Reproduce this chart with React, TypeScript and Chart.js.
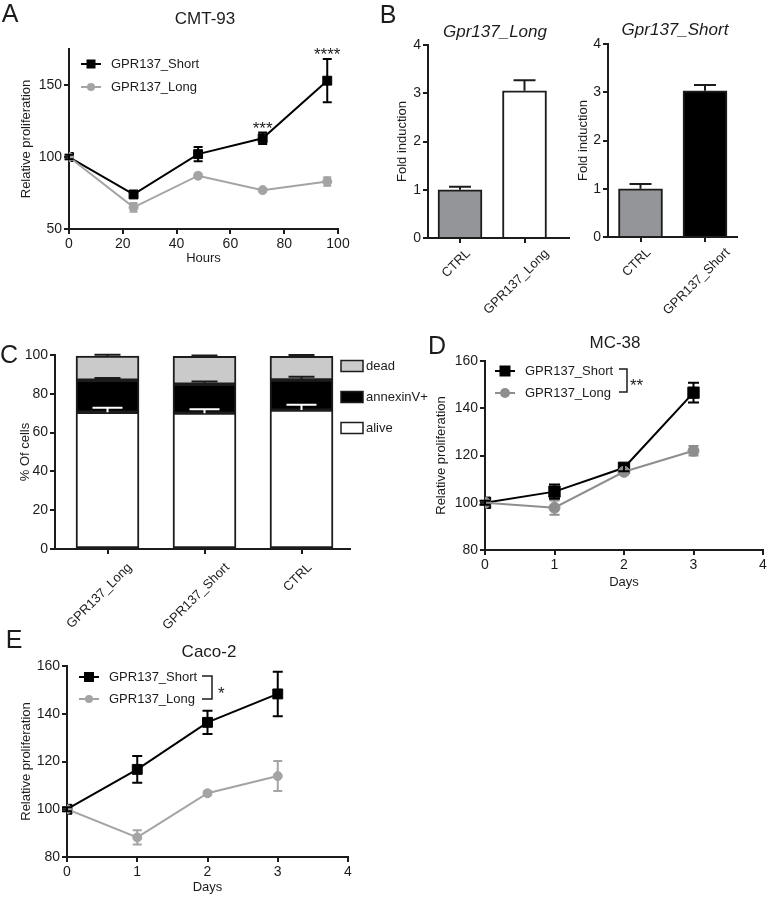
import React, { useEffect, useRef } from 'react';
import { Chart, registerables } from 'chart.js';

Chart.register(...registerables);

const FONT = '"Liberation Sans", Arial, Helvetica, sans-serif';
const W = 772;
const H = 897;
const INK = '#1c1c1c';
const GRAY_A = '#a4a4a4';
const GRAY_D = '#8e8e8e';
const CTRL_GRAY = '#939598';
const DEAD_GRAY = '#cacaca';

// ---------- Panel A: CMT-93 ----------
const hoursA = [0, 24, 48, 72, 96];
const shortA = [100, 74, 102, 113, 153];
const shortAErr = [1.5, 2, 5, 4, 15];
const longA = [100, 65, 87, 77, 83];
const longAErr = [1.5, 3, 1.5, 1, 3];
const starsA = ['', '', '', '***', '****'];
const yTicksA = [50, 100, 150];

// ---------- Panel B ----------
const bLongLabels = ['CTRL', 'GPR137_Long'];
const bLongValues = [1.0, 3.05];
const bLongErr = [0.06, 0.22];
const bShortLabels = ['CTRL', 'GPR137_Short'];
const bShortValues = [1.0, 3.03];
const bShortErr = [0.1, 0.12];

// ---------- Panel C ----------
const cLabels = ['GPR137_Long', 'GPR137_Short', 'CTRL'];
const cAlive = [70.5, 70.0, 71.6];
const cAliveErr = [2.3, 2.0, 2.7];
const cAnnexin = [16.5, 14.9, 15.5];
const cAnnexinErr = [1.1, 1.4, 1.7];
const cDead = [12.5, 14.4, 12.2];
const cDeadErr = [0.6, 0.5, 0.7];

// ---------- Panel D: MC-38 ----------
const daysD = [0, 1, 2, 3];
const shortD = [100, 104.7, 114.8, 146.6];
const shortDErr = [0.8, 3, 1.5, 4.2];
const longD = [100, 97.9, 113.1, 122.0];
const longDErr = [0.8, 3, 1, 2];

// ---------- Panel E: Caco-2 ----------
const daysE = [0, 1, 2, 3];
const shortE = [100, 116.7, 136.4, 148.3];
const shortEErr = [0.8, 5.6, 4.9, 9.3];
const longE = [100, 88.2, 106.7, 113.9];
const longEErr = [0.8, 3.0, 0.8, 6.3];

type TextItem = { text: string; x: number; y: number; size: number; italic?: boolean; align?: CanvasTextAlign; baseline?: CanvasTextBaseline };
type LegendItem = { label: string; color: string; marker: 'rect' | 'circle'; size: number; x1: number; x2: number; textX: number; y: number };
type BoxItem = { label: string; fill: string; x: number; y: number; w: number; h: number; textX: number };
type Bracket = { x: number; y1: number; y2: number; arm: number };

function decor(cfg: { texts?: TextItem[]; legend?: LegendItem[]; boxes?: BoxItem[]; brackets?: Bracket[] }) {
  return {
    id: 'decor',
    afterDraw(chart: any) {
      const ctx: CanvasRenderingContext2D = chart.ctx;
      ctx.save();
      (cfg.texts || []).forEach((t) => {
        ctx.font = `${t.italic ? 'italic ' : ''}${t.size}px ${FONT}`;
        ctx.fillStyle = INK;
        ctx.textAlign = t.align || 'center';
        ctx.textBaseline = t.baseline || 'middle';
        ctx.fillText(t.text, t.x, t.y);
      });
      (cfg.legend || []).forEach((l) => {
        ctx.strokeStyle = l.color;
        ctx.fillStyle = l.color;
        ctx.lineWidth = 2;
        ctx.beginPath();
        ctx.moveTo(l.x1, l.y);
        ctx.lineTo(l.x2, l.y);
        ctx.stroke();
        const cx = (l.x1 + l.x2) / 2;
        ctx.beginPath();
        if (l.marker === 'rect') ctx.rect(cx - l.size / 2, l.y - l.size / 2, l.size, l.size);
        else ctx.arc(cx, l.y, l.size / 2, 0, Math.PI * 2);
        ctx.fill();
        ctx.font = `13px ${FONT}`;
        ctx.fillStyle = INK;
        ctx.textAlign = 'left';
        ctx.textBaseline = 'middle';
        ctx.fillText(l.label, l.textX, l.y);
      });
      (cfg.boxes || []).forEach((b) => {
        ctx.fillStyle = b.fill;
        ctx.strokeStyle = INK;
        ctx.lineWidth = 1.5;
        ctx.beginPath();
        ctx.rect(b.x, b.y - b.h / 2, b.w, b.h);
        ctx.fill();
        ctx.stroke();
        ctx.font = `13px ${FONT}`;
        ctx.fillStyle = INK;
        ctx.textAlign = 'left';
        ctx.textBaseline = 'middle';
        ctx.fillText(b.label, b.textX, b.y);
      });
      (cfg.brackets || []).forEach((br) => {
        ctx.strokeStyle = INK;
        ctx.lineWidth = 1.5;
        ctx.beginPath();
        ctx.moveTo(br.x - br.arm, br.y1);
        ctx.lineTo(br.x, br.y1);
        ctx.lineTo(br.x, br.y2);
        ctx.lineTo(br.x - br.arm, br.y2);
        ctx.stroke();
      });
      ctx.restore();
    },
  };
}

// rotated (45°) category labels drawn at the x scale's tick positions
function rotatedLabels(labels: string[], dy: number) {
  return {
    id: 'rotLabels',
    afterDraw(chart: any) {
      const ctx: CanvasRenderingContext2D = chart.ctx;
      const sx = chart.scales.x;
      const bottom = chart.chartArea.bottom;
      ctx.save();
      ctx.font = `13px ${FONT}`;
      ctx.fillStyle = INK;
      ctx.textAlign = 'right';
      ctx.textBaseline = 'middle';
      labels.forEach((lab, i) => {
        const w = ctx.measureText(lab).width;
        const ex = sx.getPixelForValue(i) + 5.5 + 0.27 * (w - 20) - 1;
        const ey = bottom + dy;
        ctx.save();
        ctx.translate(ex, ey);
        ctx.rotate(-Math.PI / 4);
        ctx.fillText(lab, 0, 0);
        ctx.restore();
      });
      ctx.restore();
    },
  };
}

type ErrSpec = { dataset: number; errors: number[]; color: string; cap: number; mode: 'both' | 'up'; width?: number };
function errorBars(specs: ErrSpec[]) {
  return {
    id: 'errorBars',
    afterDatasetsDraw(chart: any) {
      const ctx: CanvasRenderingContext2D = chart.ctx;
      const ys = chart.scales.y;
      ctx.save();
      specs.forEach((s) => {
        const meta = chart.getDatasetMeta(s.dataset);
        meta.data.forEach((el: any, i: number) => {
          const e = s.errors[i];
          if (!e) return;
          const d = Math.abs(ys.getPixelForValue(e) - ys.getPixelForValue(0));
          const px = el.x;
          const py = el.y;
          const top = py - d;
          const bot = s.mode === 'both' ? py + d : py;
          ctx.strokeStyle = s.color;
          ctx.lineWidth = s.width ?? 2;
          ctx.beginPath();
          ctx.moveTo(px, top);
          ctx.lineTo(px, bot);
          ctx.moveTo(px - s.cap / 2, top);
          ctx.lineTo(px + s.cap / 2, top);
          if (s.mode === 'both') {
            ctx.moveTo(px - s.cap / 2, bot);
            ctx.lineTo(px + s.cap / 2, bot);
          }
          ctx.stroke();
        });
      });
      ctx.restore();
    },
  };
}

function starsPlugin(xs: number[], ys: number[], errs: number[], labels: string[]) {
  return {
    id: 'stars',
    afterDraw(chart: any) {
      const ctx: CanvasRenderingContext2D = chart.ctx;
      const sx = chart.scales.x;
      const sy = chart.scales.y;
      ctx.save();
      ctx.font = `17px ${FONT}`;
      ctx.fillStyle = INK;
      ctx.textAlign = 'center';
      ctx.textBaseline = 'alphabetic';
      labels.forEach((lab, i) => {
        if (!lab) return;
        ctx.fillText(lab, sx.getPixelForValue(xs[i]), sy.getPixelForValue(ys[i] + errs[i]) + 1);
      });
      ctx.restore();
    },
  };
}

// plot-area geometry helpers
function layoutFor(L: number, T: number, R: number, B: number, yTitleX: number, xBand: number) {
  const padLeft = yTitleX - 7.8;
  return {
    padding: { left: padLeft, top: T, right: W - R, bottom: H - B - xBand },
    yWidth: L - padLeft,
    xHeight: xBand,
  };
}

function yAxis(o: { min: number; max: number; step?: number; ticks?: number[]; title: string; width: number }) {
  return {
    type: 'linear',
    position: 'left',
    min: o.min,
    max: o.max,
    afterFit: (s: any) => {
      s.width = o.width;
    },
    afterBuildTicks: o.ticks
      ? (s: any) => {
          s.ticks = o.ticks!.map((v) => ({ value: v }));
        }
      : undefined,
    ticks: { stepSize: o.step, color: INK, font: { family: FONT, size: 14 }, padding: 2 },
    border: { display: true, color: INK, width: 2 },
    grid: { drawOnChartArea: false, drawTicks: true, tickLength: 5, color: INK, lineWidth: 2 },
    title: { display: true, text: o.title, color: INK, font: { family: FONT, size: 13 }, padding: 0 },
  };
}

function xAxisNum(o: { min: number; max: number; step: number; title: string; height: number }) {
  return {
    type: 'linear',
    position: 'bottom',
    min: o.min,
    max: o.max,
    afterFit: (s: any) => {
      s.height = o.height;
    },
    ticks: { stepSize: o.step, color: INK, font: { family: FONT, size: 14 }, padding: 2, maxRotation: 0 },
    border: { display: true, color: INK, width: 2 },
    grid: { drawOnChartArea: false, drawTicks: true, tickLength: 5, color: INK, lineWidth: 2 },
    title: { display: true, text: o.title, color: INK, font: { family: FONT, size: 13 }, padding: 0 },
  };
}

function xAxisCat(o: { min: number; max: number; labels: string[]; height: number }) {
  return {
    type: 'linear',
    position: 'bottom',
    min: o.min,
    max: o.max,
    offset: false,
    afterFit: (s: any) => {
      s.height = o.height;
    },
    afterBuildTicks: (s: any) => {
      s.ticks = o.labels.map((_, i) => ({ value: i }));
    },
    ticks: { display: false },
    border: { display: true, color: INK, width: 2 },
    grid: { drawOnChartArea: false, drawTicks: true, tickLength: 5, color: INK, lineWidth: 2, offset: false },
  };
}

function lineDataset(xs: number[], ys: number[], color: string, style: 'rect' | 'circle', radius: number) {
  return {
    data: xs.map((x, i) => ({ x, y: ys[i] })),
    borderColor: color,
    backgroundColor: color,
    borderWidth: 2,
    pointStyle: style,
    pointRadius: radius,
    pointBorderWidth: 1,
    pointBorderColor: color,
    pointBackgroundColor: color,
    tension: 0,
  };
}

function makeA(canvas: HTMLCanvasElement) {
  const g = layoutFor(69, 49, 338, 229, 26, 258 + 7.8 - 229);
  return new Chart(canvas, {
    type: 'line',
    data: {
      datasets: [
        lineDataset(hoursA, longA, GRAY_A, 'circle', 4.5),
        lineDataset(hoursA, shortA, '#000', 'rect', 6.3),
      ],
    },
    options: {
      responsive: false,
      animation: false,
      events: [],
      layout: { padding: g.padding },
      plugins: { legend: { display: false }, tooltip: { enabled: false } },
      scales: {
        x: xAxisNum({ min: 0, max: 100, step: 20, title: 'Hours', height: g.xHeight }),
        y: yAxis({ min: 50, max: 175, ticks: yTicksA, title: 'Relative proliferation', width: g.yWidth }),
      },
    } as any,
    plugins: [
      errorBars([
        { dataset: 0, errors: longAErr, color: GRAY_A, cap: 8, mode: 'both' },
        { dataset: 1, errors: shortAErr, color: '#000', cap: 9, mode: 'both' },
      ]),
      starsPlugin(hoursA, shortA, shortAErr, starsA),
      decor({
        texts: [
          { text: 'A', x: 10, y: 15, size: 25 },
          { text: 'CMT-93', x: 205, y: 19, size: 17 },
        ],
        legend: [
          { label: 'GPR137_Short', color: '#000', marker: 'rect', size: 9, x1: 81, x2: 101, textX: 111, y: 64 },
          { label: 'GPR137_Long', color: GRAY_A, marker: 'circle', size: 8, x1: 81, x2: 101, textX: 111, y: 87 },
        ],
      }),
    ],
  });
}

function makeB(canvas: HTMLCanvasElement, which: 'long' | 'short') {
  const isLong = which === 'long';
  const L = isLong ? 428 : 608;
  const R = isLong ? 569 : 737;
  const T = isLong ? 45 : 44;
  const B = isLong ? 238 : 237;
  const c0 = isLong ? 460 : 640.5;
  const unit = 64.5;
  const g = layoutFor(L, T, R, B, isLong ? 402.7 : 583, 70);
  const labels = isLong ? bLongLabels : bShortLabels;
  const values = isLong ? bLongValues : bShortValues;
  const errs = isLong ? bLongErr : bShortErr;
  const fills = isLong ? [CTRL_GRAY, '#ffffff'] : [CTRL_GRAY, '#000000'];
  return new Chart(canvas, {
    type: 'bar',
    data: {
      datasets: [
        {
          data: values.map((v, i) => ({ x: i, y: v })),
          backgroundColor: fills,
          borderColor: INK,
          borderWidth: 2,
          barThickness: 44,
        },
      ],
    },
    options: {
      responsive: false,
      animation: false,
      events: [],
      layout: { padding: g.padding },
      plugins: { legend: { display: false }, tooltip: { enabled: false } },
      scales: {
        x: xAxisCat({ min: (L - c0) / unit, max: (R - c0) / unit, labels, height: g.xHeight }),
        y: yAxis({ min: 0, max: 4, step: 1, title: 'Fold induction', width: g.yWidth }),
      },
    } as any,
    plugins: [
      errorBars([{ dataset: 0, errors: errs, color: INK, cap: 22, mode: 'up' }]),
      rotatedLabels(labels, 13.5),
      decor({
        texts: isLong
          ? [
              { text: 'B', x: 388, y: 16, size: 25 },
              { text: 'Gpr137_Long', x: 495, y: 32, size: 17, italic: true },
            ]
          : [{ text: 'Gpr137_Short', x: 675, y: 30, size: 17, italic: true }],
      }),
    ],
  });
}

function makeC(canvas: HTMLCanvasElement) {
  const L = 55, R = 350, T = 355, B = 549;
  const c0 = 107.5;
  const unit = 97;
  const g = layoutFor(L, T, R, B, 25, 80);
  const mk = (vals: number[], fill: string) => ({
    data: vals.map((v, i) => ({ x: i, y: v })),
    backgroundColor: fill,
    borderColor: INK,
    borderWidth: 2,
    barThickness: 63,
    stack: 's',
    borderSkipped: false,
  });
  return new Chart(canvas, {
    type: 'bar',
    data: {
      datasets: [mk(cAlive, '#ffffff'), mk(cAnnexin, '#000000'), mk(cDead, DEAD_GRAY)],
    },
    options: {
      responsive: false,
      animation: false,
      events: [],
      layout: { padding: g.padding },
      plugins: { legend: { display: false }, tooltip: { enabled: false } },
      scales: {
        x: xAxisCat({ min: (L - c0) / unit, max: (R - c0) / unit, labels: cLabels, height: g.xHeight }),
        y: { ...yAxis({ min: 0, max: 100, step: 20, title: '% Of cells', width: g.yWidth }), stacked: true },
      },
    } as any,
    plugins: [
      errorBars([
        { dataset: 0, errors: cAliveErr, color: '#ffffff', cap: 30, mode: 'up' },
        { dataset: 1, errors: cAnnexinErr, color: INK, cap: 26, mode: 'up' },
        { dataset: 2, errors: cDeadErr, color: INK, cap: 26, mode: 'up' },
      ]),
      rotatedLabels(cLabels, 16.5),
      decor({
        texts: [{ text: 'C', x: 9, y: 356, size: 25 }],
        boxes: [
          { label: 'dead', fill: DEAD_GRAY, x: 341, y: 366, w: 22, h: 11, textX: 366 },
          { label: 'annexinV+', fill: '#000000', x: 341, y: 397, w: 22, h: 11, textX: 366 },
          { label: 'alive', fill: '#ffffff', x: 341, y: 428, w: 22, h: 11, textX: 366 },
        ],
      }),
    ],
  });
}

function makeDE(canvas: HTMLCanvasElement, which: 'D' | 'E') {
  const isD = which === 'D';
  const L = isD ? 485 : 67;
  const R = isD ? 768 : 348;
  const T = isD ? 361 : 666;
  const B = isD ? 550 : 857;
  const titleY = isD ? 582 : 887;
  const g = layoutFor(L, T, R, B, isD ? 441.7 : 26.7, titleY + 7.8 - B);
  const xs = isD ? daysD : daysE;
  const sh = isD ? shortD : shortE;
  const shE = isD ? shortDErr : shortEErr;
  const lo = isD ? longD : longE;
  const loE = isD ? longDErr : longEErr;
  const gray = isD ? GRAY_D : GRAY_A;
  const lx = isD ? 495 : 79;
  const ly1 = isD ? 371 : 677;
  const ly2 = isD ? 393 : 699;
  return new Chart(canvas, {
    type: 'line',
    data: {
      datasets: [
        lineDataset(xs, lo, gray, 'circle', isD ? 5.5 : 4.5),
        lineDataset(xs, sh, '#000', 'rect', isD ? 8 : 7),
      ],
    },
    options: {
      responsive: false,
      animation: false,
      events: [],
      layout: { padding: g.padding },
      plugins: { legend: { display: false }, tooltip: { enabled: false } },
      scales: {
        x: xAxisNum({ min: 0, max: 4, step: 1, title: 'Days', height: g.xHeight }),
        y: yAxis({ min: 80, max: 160, step: 20, title: 'Relative proliferation', width: g.yWidth }),
      },
    } as any,
    plugins: [
      errorBars([
        { dataset: 0, errors: loE, color: gray, cap: isD ? 10 : 9, mode: 'both' },
        { dataset: 1, errors: shE, color: '#000', cap: isD ? 11 : 10, mode: 'both' },
      ]),
      decor({
        texts: isD
          ? [
              { text: 'D', x: 437, y: 347, size: 25 },
              { text: 'MC-38', x: 615, y: 343, size: 17 },
              { text: '**', x: 630, y: 391, size: 17, align: 'left', baseline: 'alphabetic' },
            ]
          : [
              { text: 'E', x: 14, y: 641, size: 25 },
              { text: 'Caco-2', x: 209, y: 652, size: 17 },
              { text: '*', x: 218, y: 699, size: 17, align: 'left', baseline: 'alphabetic' },
            ],
        legend: [
          { label: 'GPR137_Short', color: '#000', marker: 'rect', size: isD ? 11 : 10, x1: lx, x2: lx + 20, textX: lx + 30, y: ly1 },
          { label: 'GPR137_Long', color: gray, marker: 'circle', size: isD ? 10 : 8, x1: lx, x2: lx + 20, textX: lx + 30, y: ly2 },
        ],
        brackets: isD ? [{ x: 627, y1: 369, y2: 392, arm: 8 }] : [{ x: 212, y1: 676, y2: 699, arm: 10 }],
      }),
    ],
  });
}

function ChartLayer({ make }: { make: (c: HTMLCanvasElement) => Chart }) {
  const ref = useRef<HTMLCanvasElement>(null);
  useEffect(() => {
    const chart = make(ref.current as HTMLCanvasElement);
    return () => chart.destroy();
  }, []);
  return (
    <canvas
      ref={ref}
      width={W}
      height={H}
      style={{ position: 'absolute', left: 0, top: 0, width: W, height: H }}
    />
  );
}

export default function App() {
  return (
    <div style={{ position: 'absolute', left: 0, top: 0, width: W, height: H, background: '#fff', overflow: 'hidden' }}>
      <ChartLayer make={makeA} />
      <ChartLayer make={(c) => makeB(c, 'long')} />
      <ChartLayer make={(c) => makeB(c, 'short')} />
      <ChartLayer make={makeC} />
      <ChartLayer make={(c) => makeDE(c, 'D')} />
      <ChartLayer make={(c) => makeDE(c, 'E')} />
    </div>
  );
}
